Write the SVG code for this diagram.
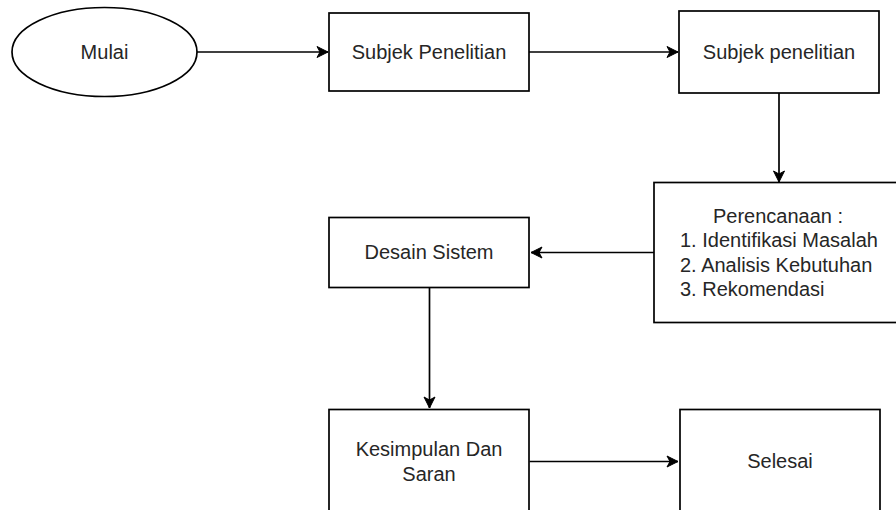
<svg xmlns="http://www.w3.org/2000/svg" width="896" height="510" viewBox="0 0 896 510">
<defs>
<style>
.n{fill:#fff;stroke:#000;stroke-width:1.7}
.t{font-family:"Liberation Sans",Arial,sans-serif;font-size:20px;fill:#262626}
.c{text-anchor:middle}
.e{fill:none;stroke:#000;stroke-width:1.7}
</style>
<marker id="arr" markerUnits="userSpaceOnUse" markerWidth="14" markerHeight="14" viewBox="0 0 14 14" refX="12" refY="7" orient="auto">
<path d="M1,1.5 L12,7 L1,12.5 L4,7 Z" fill="#000" stroke="#000" stroke-width="1"/>
</marker>
</defs>
<rect width="896" height="510" fill="#fff"/>
<g id="connectors">
<path class="e" d="M197,52 H328" marker-end="url(#arr)"/>
<path class="e" d="M529,52 H678" marker-end="url(#arr)"/>
<path class="e" d="M779,93 V182" marker-end="url(#arr)"/>
<path class="e" d="M654,252.5 H531" marker-end="url(#arr)"/>
<path class="e" d="M429.5,287 V408" marker-end="url(#arr)"/>
<path class="e" d="M529.5,461.5 H678" marker-end="url(#arr)"/>
</g>
<g id="mulai">
<ellipse class="n" cx="104.5" cy="52" rx="92.5" ry="44.5"/>
<text class="t c" x="104.5" y="59">Mulai</text>
</g>
<g id="subjek1">
<rect class="n" x="329" y="13" width="200" height="78"/>
<text class="t c" x="429" y="59">Subjek Penelitian</text>
</g>
<g id="subjek2">
<rect class="n" x="679" y="11" width="200" height="82"/>
<text class="t c" x="779" y="59">Subjek penelitian</text>
</g>
<g id="perencanaan">
<rect class="n" x="654" y="182.5" width="250" height="140"/>
<text class="t c" x="778" y="222.5">Perencanaan :</text>
<text class="t" x="680" y="247">1. Identifikasi Masalah</text>
<text class="t" x="680" y="271.5">2. Analisis Kebutuhan</text>
<text class="t" x="680" y="296">3. Rekomendasi</text>
</g>
<g id="desain">
<rect class="n" x="329" y="217.5" width="200" height="70"/>
<text class="t c" x="429" y="259">Desain Sistem</text>
</g>
<g id="kesimpulan">
<rect class="n" x="329" y="409.5" width="200" height="110"/>
<text class="t c" x="429" y="456">Kesimpulan Dan</text>
<text class="t c" x="429" y="481">Saran</text>
</g>
<g id="selesai">
<rect class="n" x="680" y="409.5" width="200" height="110"/>
<text class="t c" x="780" y="468">Selesai</text>
</g>
</svg>
